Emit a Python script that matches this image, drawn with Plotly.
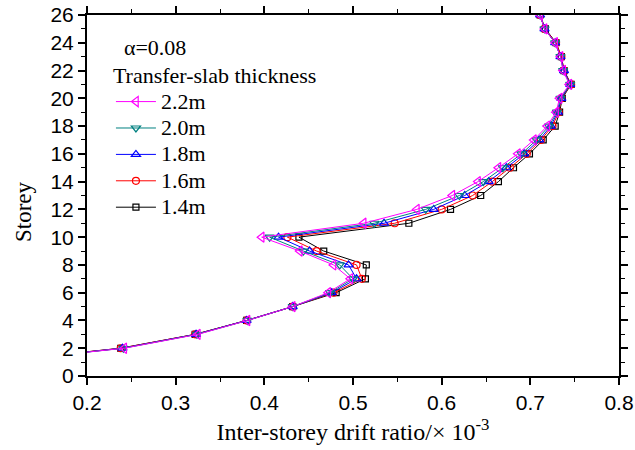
import plotly.graph_objects as go

storey = list(range(1, 27))

t22 = [0.094, 0.242, 0.325, 0.381, 0.432, 0.472, 0.497, 0.478, 0.440, 0.397,
       0.512, 0.572, 0.612, 0.641, 0.664, 0.686, 0.704, 0.719, 0.729, 0.733,
       0.744, 0.737, 0.734, 0.728, 0.716, 0.711]
t20 = [0.093, 0.241, 0.324, 0.381, 0.432, 0.474, 0.500, 0.485, 0.444, 0.406,
       0.524, 0.582, 0.620, 0.647, 0.669, 0.690, 0.707, 0.721, 0.730, 0.734,
       0.745, 0.737, 0.734, 0.728, 0.716, 0.711]
t18 = [0.092, 0.240, 0.323, 0.380, 0.432, 0.476, 0.504, 0.495, 0.451, 0.416,
       0.535, 0.591, 0.626, 0.653, 0.673, 0.693, 0.710, 0.723, 0.731, 0.735,
       0.745, 0.738, 0.734, 0.728, 0.716, 0.711]
t16 = [0.091, 0.238, 0.322, 0.380, 0.432, 0.478, 0.510, 0.504, 0.459, 0.426,
       0.547, 0.600, 0.635, 0.657, 0.677, 0.696, 0.712, 0.725, 0.732, 0.735,
       0.746, 0.738, 0.735, 0.729, 0.716, 0.711]
t14 = [0.090, 0.238, 0.322, 0.380, 0.432, 0.481, 0.514, 0.515, 0.467, 0.439,
       0.563, 0.610, 0.644, 0.664, 0.681, 0.699, 0.7145, 0.728, 0.733, 0.736,
       0.746, 0.738, 0.735, 0.729, 0.717, 0.711]

names = ["1.4m", "1.6m", "1.8m", "2.0m", "2.2m"]
series = [t14, t16, t18, t20, t22]
colors = ["#000000", "#FF0000", "#0000FF", "#008080", "#FF00FF"]
symbols = ["square-open", "circle-open", "triangle-up-open", "triangle-down-open", "triangle-left-open"]
sizes = [6, 7, 8, 8, 9]

fig = go.Figure()
for n, s, c, sym, sz in zip(names, series, colors, symbols, sizes):
    fig.add_trace(go.Scatter(
        x=s, y=storey, mode="lines+markers",
        name=f"<span style='font-size:22px'>{n}</span>",
        line=dict(color=c, width=1),
        marker=dict(symbol=sym, size=sz, color=c, line=dict(color=c, width=1.2)),
    ))

axis_common = dict(
    showline=True, linewidth=2, linecolor="black", mirror="ticks",
    ticks="outside", ticklen=7, tickwidth=1.5, tickcolor="black",
    showgrid=False, zeroline=False, automargin=False,
    tickfont=dict(family="Liberation Sans", size=21, color="black"),
)

fig.update_xaxes(range=[0.2, 0.8], dtick=0.1, tickformat=".1f",
                 minor=dict(dtick=0.05, ticklen=4, tickwidth=1.2, tickcolor="black", ticks="outside"),
                 title=dict(text="Inter-storey drift ratio/× 10<sup>-3</sup>",
                            font=dict(family="Liberation Serif", size=24, color="black"),
                            standoff=10),
                 **axis_common)
fig.update_yaxes(range=[0, 26], dtick=2,
                 minor=dict(dtick=1, ticklen=4, tickwidth=1.2, tickcolor="black", ticks="outside"),
                 **axis_common)

fig.add_annotation(
    text="Storey", xref="paper", yref="paper", x=-0.118, y=0.455,
    xanchor="center", yanchor="middle", textangle=-90, showarrow=False,
    font=dict(family="Liberation Serif", size=23, color="black"),
)

fig.update_layout(
    width=635, height=450,
    margin=dict(l=87, r=16, t=15, b=74),
    plot_bgcolor="white", paper_bgcolor="white",
    legend=dict(
        x=0.045, y=0.969, xanchor="left", yanchor="top",
        traceorder="reversed",
        bgcolor="rgba(0,0,0,0)", borderwidth=0,
        font=dict(family="Liberation Serif", size=18, color="black"),
        title=dict(text="&nbsp;&nbsp;α=0.08<br>Transfer-slab thickness",
                   font=dict(family="Liberation Serif", size=22, color="black")),
        itemwidth=40,
    ),
)

fig.write_html("out.html")
